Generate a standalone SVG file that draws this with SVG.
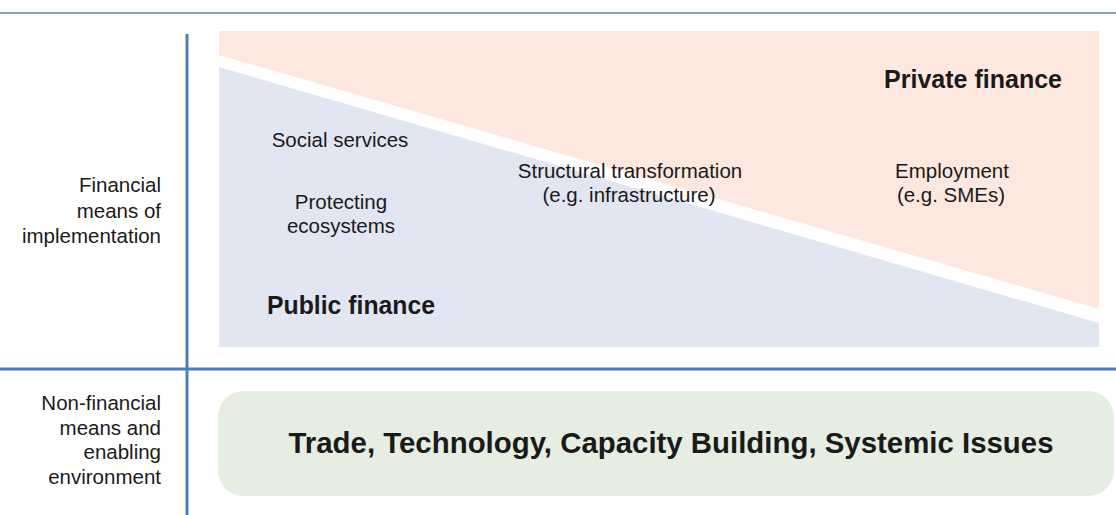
<svg xmlns="http://www.w3.org/2000/svg" width="1116" height="515" viewBox="0 0 1116 515">
<style>
.t{font-family:"Liberation Sans",Arial,sans-serif;font-size:20.5px;fill:#1a1a1a}
.lab{text-anchor:end}
.c{text-anchor:middle}
.b{font-weight:bold;font-size:25px}
.rule{stroke:#4a7cc4;stroke-width:3;fill:none}
</style>
<rect width="1116" height="515" fill="#ffffff"/>
<g id="frame">
<line x1="0" y1="13" x2="1116" y2="13" stroke="#7fa3d6" stroke-width="2"/>
<line class="rule" x1="187" y1="34" x2="187" y2="515"/>
<line class="rule" x1="0" y1="369" x2="1116" y2="369"/>
</g>
<g id="row-labels">
<text class="t lab" x="161" y="192">Financial</text>
<text class="t lab" x="161" y="218">means of</text>
<text class="t lab" x="161" y="243">implementation</text>
<text class="t lab" x="161" y="410">Non-financial</text>
<text class="t lab" x="161" y="435">means and</text>
<text class="t lab" x="161" y="459">enabling</text>
<text class="t lab" x="161" y="484">environment</text>
</g>
<g id="private-finance">
<polygon points="219,31 1099,31 1099,309 219,55" fill="#fce8df"/>
<text class="t b c" x="973" y="88" textLength="178" lengthAdjust="spacingAndGlyphs">Private finance</text>
<text class="t c" x="952" y="178">Employment</text>
<text class="t c" x="951" y="202">(e.g. SMEs)</text>
</g>
<g id="public-finance">
<polygon points="219,67 1099,323 1099,347 219,347" fill="#e2e6f2"/>
<text class="t b c" x="351" y="314" textLength="168" lengthAdjust="spacingAndGlyphs">Public finance</text>
<text class="t c" x="340" y="147">Social services</text>
<text class="t c" x="341" y="209">Protecting</text>
<text class="t c" x="341" y="233">ecosystems</text>
<text class="t c" x="630" y="178">Structural transformation</text>
<text class="t c" x="629" y="202">(e.g. infrastructure)</text>
</g>
<g id="non-financial">
<rect x="218" y="391" width="896" height="105" rx="26" fill="#e5eee0"/>
<text class="t c" x="671" y="453" style="font-weight:bold;font-size:30px" textLength="765" lengthAdjust="spacingAndGlyphs">Trade, Technology, Capacity Building, Systemic Issues</text>
</g>
<g id="connectors"></g>
</svg>
